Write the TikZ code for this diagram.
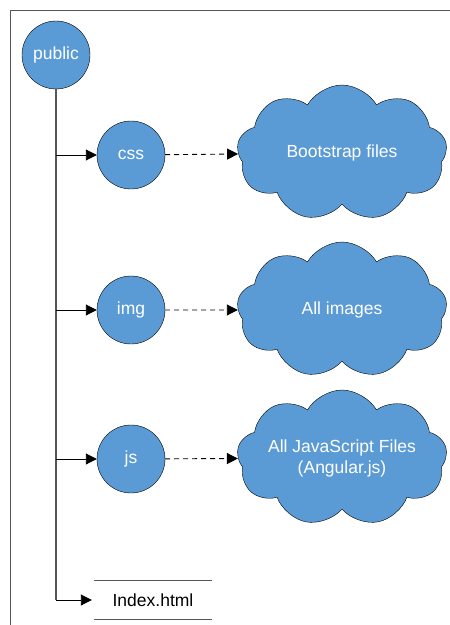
\documentclass[tikz,border=0pt]{standalone}
\usepackage{fontspec}
\setmainfont{Liberation Sans}
\usetikzlibrary{arrows.meta,shapes.symbols}
\definecolor{folderblue}{HTML}{5B9BD5}
\definecolor{treegray}{HTML}{555555}

\begin{document}
\begin{tikzpicture}[x=1bp,y=-1bp,
    main_node/.style={circle,draw=black,fill=folderblue,text=white,minimum size=68bp,inner sep=0pt,font=\fontsize{17.5bp}{21bp}\selectfont},
    cloud_node/.style={cloud,cloud puffs=9,cloud puff arc=120,cloud ignores aspect,draw=black,fill=folderblue,text=white,minimum width=210bp,minimum height=136bp,inner sep=0pt,align=center,font=\fontsize{17.5bp}{21bp}\selectfont},
    file_node/.style={minimum width=118bp,minimum height=39bp,inner sep=0pt,font=\fontsize{17.5bp}{21bp}\selectfont},
    tip/.style={-{Triangle[length=11bp,width=11bp]}}]

    \useasboundingbox (0,0) rectangle (450,625);
    \draw[treegray,line width=0.8bp] (10,625) -- (10,10) -- (450,10);

    \node[main_node] (public) at (56,55) {public};
    \node[main_node] (css) at (131,155) {css};
    \node[main_node] (img) at (131,310) {img};
    \node[main_node] (js) at (131,459) {js};

    \node[cloud_node] (bootstrap) at (342,153) {Bootstrap files};
    \node[cloud_node] (images) at (342,310) {All images};
    \node[cloud_node] (scripts) at (342,458) {All JavaScript Files\\(Angular.js)};

    \node[file_node] (index) at (153,600) {Index.html};
    \draw[treegray,line width=1bp] (index.north west) -- (index.north east)
        (index.south west) -- (index.south east);

    \draw[treegray,line width=1.2bp] (public.south) -- (public.south |- index.west);

  \path[line width=0.9bp]
    (public.south |- css.west) edge[tip] (css)
    (public.south |- img.west) edge[tip] (img)
    (public.south |- js.west) edge[tip] (js)
    (public.south |- index.west) edge[tip] ([xshift=-2bp]index.west)
    (css) edge[tip,dash pattern=on 5bp off 4bp] (bootstrap)
    (img) edge[tip,dash pattern=on 5bp off 4bp] (images)
    (js) edge[tip,dash pattern=on 5bp off 4bp] (scripts);

\end{tikzpicture}
\end{document}
